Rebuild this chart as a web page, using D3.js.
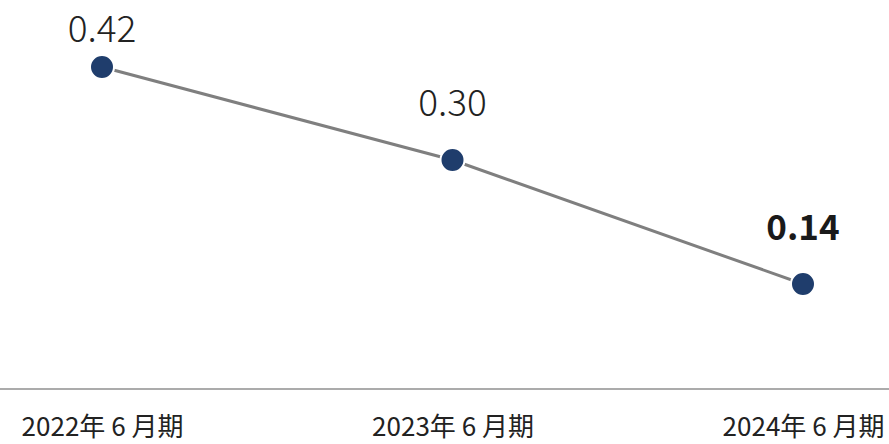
<!DOCTYPE html>
<html><head><meta charset="utf-8">
<script src="https://cdn.jsdelivr.net/npm/d3@7/dist/d3.min.js"></script>
<style>html,body{margin:0;padding:0;background:#fff;}svg{display:block;}</style>
</head><body>
<svg id="chart" width="889" height="444"></svg>
<script>
const categories = ["2022年 6 月期", "2023年 6 月期", "2024年 6 月期"];
const values = [0.42, 0.30, 0.14];
const valueLabels = ["0.42", "0.30", "0.14"];
const highlight = [false, false, true];

const W = 889, H = 444;
const svg = d3.select("#chart");
const x = d3.scalePoint().domain(categories).range([102, 803]);
const y = d3.scaleLinear().domain([0.14, 0.42]).range([284, 67]);
const font = "'Noto Sans CJK JP', 'Noto Sans', sans-serif";

// baseline
svg.append("line").attr("x1", 0).attr("x2", W).attr("y1", 389).attr("y2", 389)
  .attr("stroke", "#ababab").attr("stroke-width", 2);

// x labels via axis
const ax = svg.append("g").attr("transform", "translate(0,389)")
  .call(d3.axisBottom(x).tickSize(0));
ax.select(".domain").remove();
ax.selectAll("text").attr("font-family", font).attr("font-size", 26)
  .attr("fill", "#222").attr("dy", 0).attr("y", 47);

const data = categories.map((c, i) => ({c, v: values[i], t: valueLabels[i], h: highlight[i]}));

svg.append("path").datum(data)
  .attr("d", d3.line().x(d => x(d.c)).y(d => y(d.v)))
  .attr("fill", "none").attr("stroke", "#7f7f7f").attr("stroke-width", 3);

svg.selectAll("circle.pt").data(data).join("circle").attr("class", "pt")
  .attr("cx", d => x(d.c)).attr("cy", d => y(d.v)).attr("r", 12)
  .attr("fill", "#1f3d6c").attr("stroke", "#fff").attr("stroke-width", 2);

svg.selectAll("text.val").data(data).join("text").attr("class", "val")
  .attr("x", d => x(d.c)).attr("y", d => Math.max(y(d.v) - 44, 42))
  .attr("text-anchor", "middle").attr("font-family", font)
  .attr("font-size", d => d.h ? 35 : 37)
  .attr("font-weight", d => d.h ? 700 : 300)
  .attr("fill", d => d.h ? "#1a1a1a" : "#222")
  .text(d => d.t);
</script>
</body></html>
